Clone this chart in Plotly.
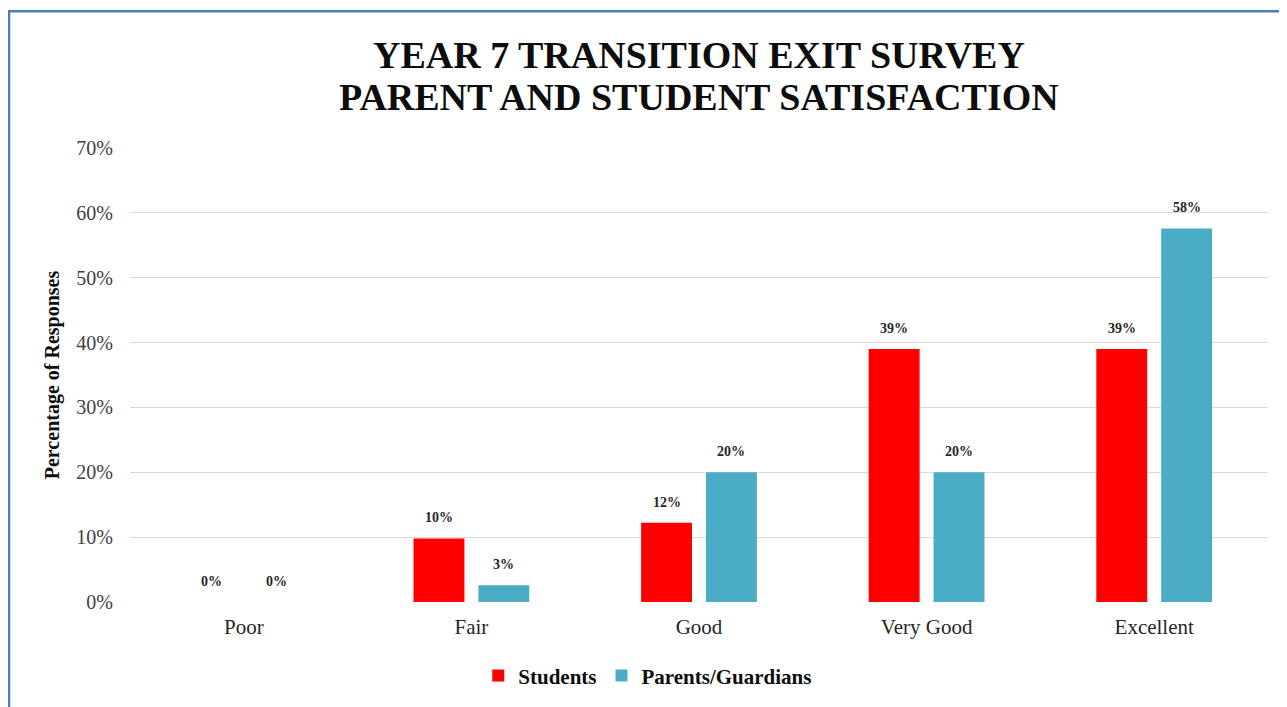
import plotly.graph_objects as go

categories = ["Poor", "Fair", "Good", "Very Good", "Excellent"]
students = [0.0, 0.098, 0.122, 0.39, 0.39]
parents = [0.0, 0.026, 0.20, 0.20, 0.576]
series_names = ["Students", "Parents/Guardians"]
colors = ["#FF0000", "#4BACC6"]
title_lines = ["YEAR 7 TRANSITION EXIT SURVEY", "PARENT AND STUDENT SATISFACTION"]

# page has an 8px body margin; figure is sized to fill the rest of the window
W, H = 1279, 699
ML, MR, MT, MB = 122, 19, 140, 104
BARGAP = 0.43
BARGROUPGAP = 0.215
FONT = "Liberation Serif"

plot_w = W - ML - MR
plot_h = H - MT - MB

fig = go.Figure()
for name, vals, col in zip(series_names, [students, parents], colors):
    fig.add_trace(go.Bar(
        x=categories, y=vals, name=name,
        marker=dict(color=col, line=dict(width=0)),
    ))

# data labels above each bar
cat_w = plot_w / len(categories)
slot = cat_w * (1 - BARGAP) / 2
for si, vals in enumerate([students, parents]):
    shift = (si - 0.5) * slot
    for c, v in zip(categories, vals):
        fig.add_annotation(
            x=c, y=v, xref="x", yref="y", text=f"{v:.0%}",
            showarrow=False, xshift=shift, yshift=11, yanchor="bottom",
            font=dict(family=FONT, size=14, color="#262626", weight="bold"),
        )

# two-line title
for i, line in enumerate(title_lines):
    fig.add_annotation(
        x=0.5, xref="paper", y=1 + (MT - 47 - 42 * i) / plot_h, yref="paper",
        text=line, showarrow=False, xanchor="center", yanchor="middle",
        font=dict(family=FONT, size=38, color="#0d0d0d", weight="bold"),
    )

fig.update_layout(
    width=W, height=H,
    margin=dict(l=ML, r=MR, t=MT, b=MB),
    paper_bgcolor="white", plot_bgcolor="white",
    barmode="group", bargap=BARGAP, bargroupgap=BARGROUPGAP,
    font=dict(family=FONT, color="#404040"),
    xaxis=dict(
        showgrid=False, showline=False, zeroline=False,
        tickfont=dict(family=FONT, size=21, color="#262626"),
        ticks="outside", ticklen=6, tickcolor="rgba(0,0,0,0)",
    ),
    yaxis=dict(
        range=[0, 0.70], dtick=0.1, tickformat=".0%",
        showgrid=True, gridcolor="#d9d9d9", gridwidth=1.3,
        zeroline=False, showline=False,
        ticks="outside", ticklen=12, tickcolor="rgba(0,0,0,0)",
        tickfont=dict(family=FONT, size=20, color="#404040"),
        title=dict(text="Percentage of Responses", standoff=11,
                   font=dict(family=FONT, size=20, color="#0d0d0d", weight="bold")),
    ),
    legend=dict(
        orientation="h", x=0.455, xanchor="center", y=-0.16, yanchor="middle",
        font=dict(family=FONT, size=21, color="#0d0d0d", weight="bold"),
        itemwidth=30,
    ),
    shapes=[dict(
        type="rect", xref="paper", yref="paper",
        x0=(1 - ML) / plot_w, x1=1.1, y0=-0.4, y1=1 + (MT - 3) / plot_h,
        line=dict(color="#4a7ebb", width=2.5), layer="below",
    )],
)

fig.write_html("out.html")
